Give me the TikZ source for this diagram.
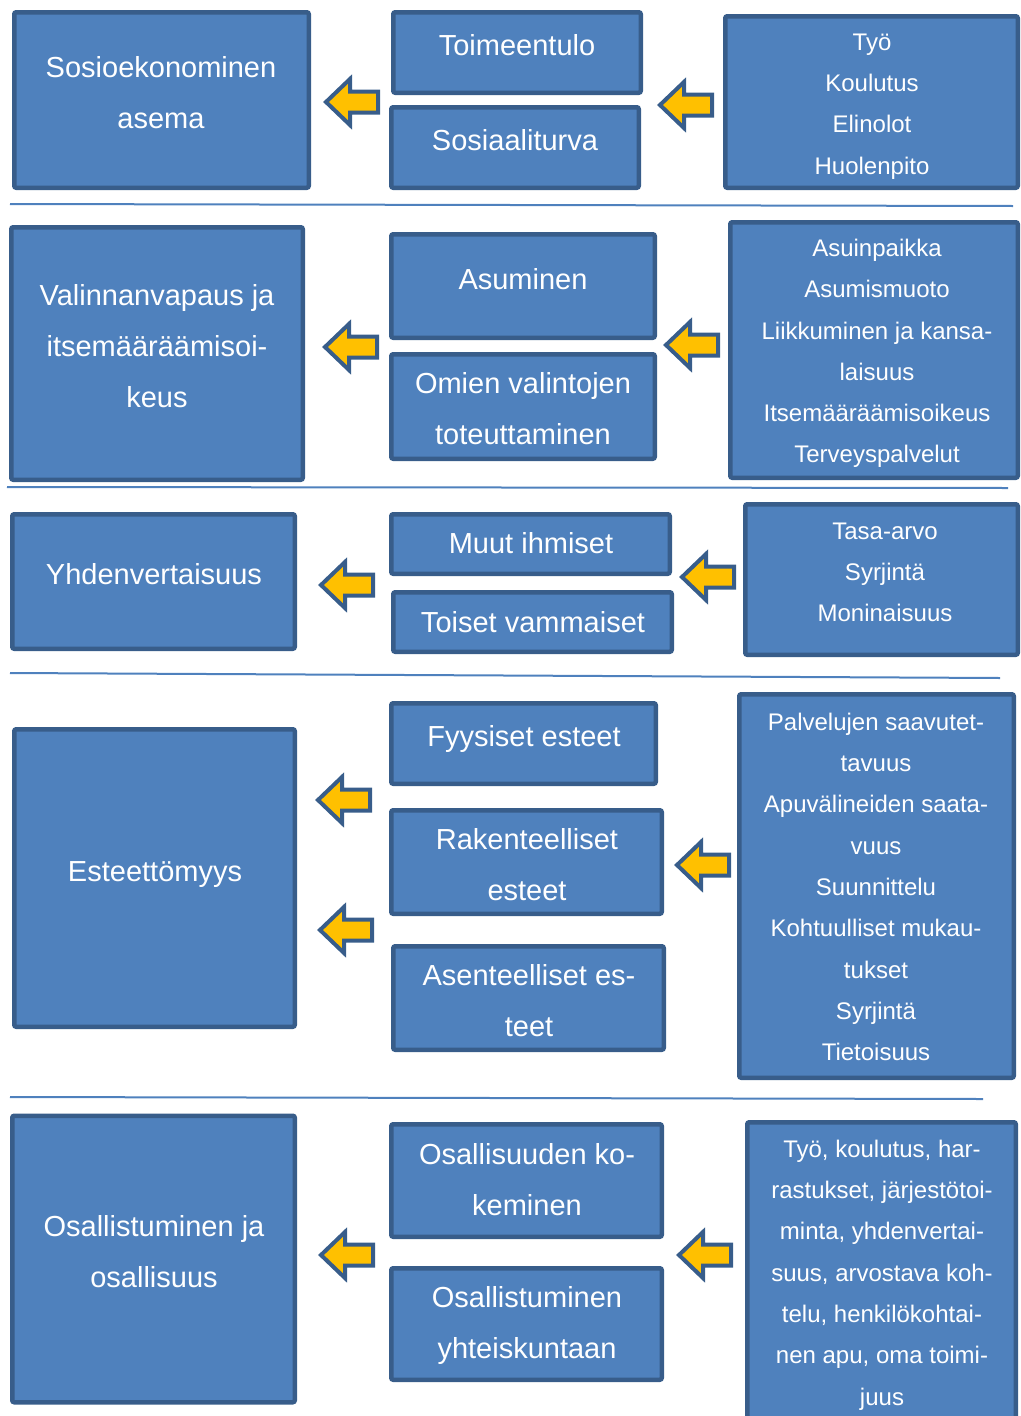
\documentclass[tikz,border=0pt]{standalone}
\usepackage{fontspec}
\setmainfont{Liberation Sans}
\definecolor{boxfill}{HTML}{4F81BD}
\definecolor{boxline}{HTML}{385D8A}
\definecolor{arrfill}{HTML}{FFC000}

\begin{document}
\begin{tikzpicture}[x=1pt, y=-1pt,
    box/.style = {draw=boxline, fill=boxfill, line width=4.5pt, rounded corners=2pt, inner sep=0pt},
    big/.style = {text=white, align=center, inner sep=0pt, font=\fontsize{29}{51}\selectfont},
    small/.style = {text=white, align=center, inner sep=0pt, font=\fontsize{24}{41.3}\selectfont},
    sep/.style = {draw=boxfill, line width=2pt},
    larr/.pic = {\draw[draw=boxline, fill=arrfill, line width=4pt]
        (0,0) -- (24,-23) -- (24,-10.5) -- (52,-10.5) -- (52,10.5) -- (24,10.5) -- (24,23) -- cycle;}]
\useasboundingbox (0,0) rectangle (1020,1416);

% row 1
\node[box, minimum width=294.5, minimum height=175.5] (soc) at (161.5,100) {};
\node[box, minimum width=247.5, minimum height=80.5] (toim) at (517,52.5) {};
\node[box, minimum width=247.5, minimum height=80.5] (sos) at (515,147.5) {};
\node[box, minimum width=292.5, minimum height=171.5] (r1) at (871.5,102) {};
\node[big] (soct) at (161,92.5) {Sosioekonominen\\asema};
\node[big] (toimt) at (517,45) {Toimeentulo};
\node[big] (sost) at (515,140) {Sosiaaliturva};
\node[small] (r1t) at (872,106.5) {Työ\\Koulutus\\Elinolot\\Huolenpito};
\pic at (326,102) {larr};
\pic at (660,105) {larr};
\draw[sep] (10,204) -- (1013,206);

% row 2
\node[box, minimum width=291.5, minimum height=252.5] (val) at (157,353.5) {};
\node[box, minimum width=263.5, minimum height=103.5] (asu) at (523,286) {};
\node[box, minimum width=263.5, minimum height=104.5] (omi) at (523,406.5) {};
\node[box, minimum width=287.5, minimum height=255.5] (r2) at (874,350) {};
\node[big] (valt) at (157,346.5) {Valinnanvapaus ja\\itsemääräämisoi-\\keus};
\node[big] (asut) at (523,279) {Asuminen};
\node[big] (omit) at (523,408.5) {Omien valintojen\\toteuttaminen};
\node[small] (r2t) at (877,353.5) {Asuinpaikka\\Asumismuoto\\Liikkuminen ja kansa-\\laisuus\\Itsemääräämisoikeus\\Terveyspalvelut};
\pic at (325,347) {larr};
\pic at (666,345) {larr};
\draw[sep] (7,487) -- (1008,488);

% row 3
\node[box, minimum width=282.5, minimum height=134.5] (yhd) at (153.5,581.5) {};
\node[box, minimum width=278.5, minimum height=59.5] (muu) at (530.5,544) {};
\node[box, minimum width=278.5, minimum height=59.5] (toi) at (532.5,622) {};
\node[box, minimum width=272.5, minimum height=150.5] (r3) at (881.5,579.5) {};
\node[big] (yhdt) at (154,574) {Yhdenvertaisuus};
\node[big] (muut) at (531,543) {Muut ihmiset};
\node[big] (toit) at (533,622) {Toiset vammaiset};
\node[small] (r3t) at (885,572.5) {Tasa-arvo\\Syrjintä\\Moninaisuus};
\pic at (321,585) {larr};
\pic at (682,577) {larr};
\draw[sep] (10,673) -- (1000,678);

% row 4
\node[box, minimum width=280.5, minimum height=297.5] (est) at (154.5,878) {};
\node[box, minimum width=264.5, minimum height=80.5] (fyy) at (523.5,743.5) {};
\node[box, minimum width=270.5, minimum height=103.5] (rak) at (526.5,862) {};
\node[box, minimum width=270.5, minimum height=103.5] (ase) at (528.5,998) {};
\node[box, minimum width=274.5, minimum height=383.5] (r4) at (876.5,886) {};
\node[big] (estt) at (155,875) {Esteettömyys};
\node[big] (fyyt) at (524,739) {Fyysiset esteet};
\node[big] (rakt) at (527,864.5) {Rakenteelliset\\esteet};
\node[big] (aset) at (529,1000.5) {Asenteelliset es-\\teet};
\node[small] (r4t) at (876,887) {Palvelujen saavutet-\\tavuus\\Apuvälineiden saata-\\vuus\\Suunnittelu\\Kohtuulliset mukau-\\tukset\\Syrjintä\\Tietoisuus};
\pic at (318,800) {larr};
\pic at (320,930) {larr};
\pic at (677,865) {larr};
\draw[sep] (10,1097) -- (983,1099);

% row 5
\node[box, minimum width=282.5, minimum height=286.5] (osa) at (153.5,1259) {};
\node[box, minimum width=270.5, minimum height=112.5] (oko) at (526.5,1180.5) {};
\node[box, minimum width=270.5, minimum height=111.5] (oyh) at (526.5,1324) {};
\node[box, minimum width=268.5, minimum height=305.5] (r5) at (881.5,1275) {};
\node[big] (osat) at (154,1251.5) {Osallistuminen ja\\osallisuus};
\node[big] (okot) at (527,1179.5) {Osallisuuden ko-\\keminen};
\node[big] (oyht) at (527,1325.5) {Osallistuminen\\yhteiskuntaan};
\node[small] (r5t) at (882,1275) {Työ, koulutus, har-\\rastukset, järjestötoi-\\minta, yhdenvertai-\\suus, arvostava koh-\\telu, henkilökohtai-\\nen apu, oma toimi-\\juus};
\pic at (321,1255) {larr};
\pic at (679,1255) {larr};
\end{tikzpicture}
\end{document}
